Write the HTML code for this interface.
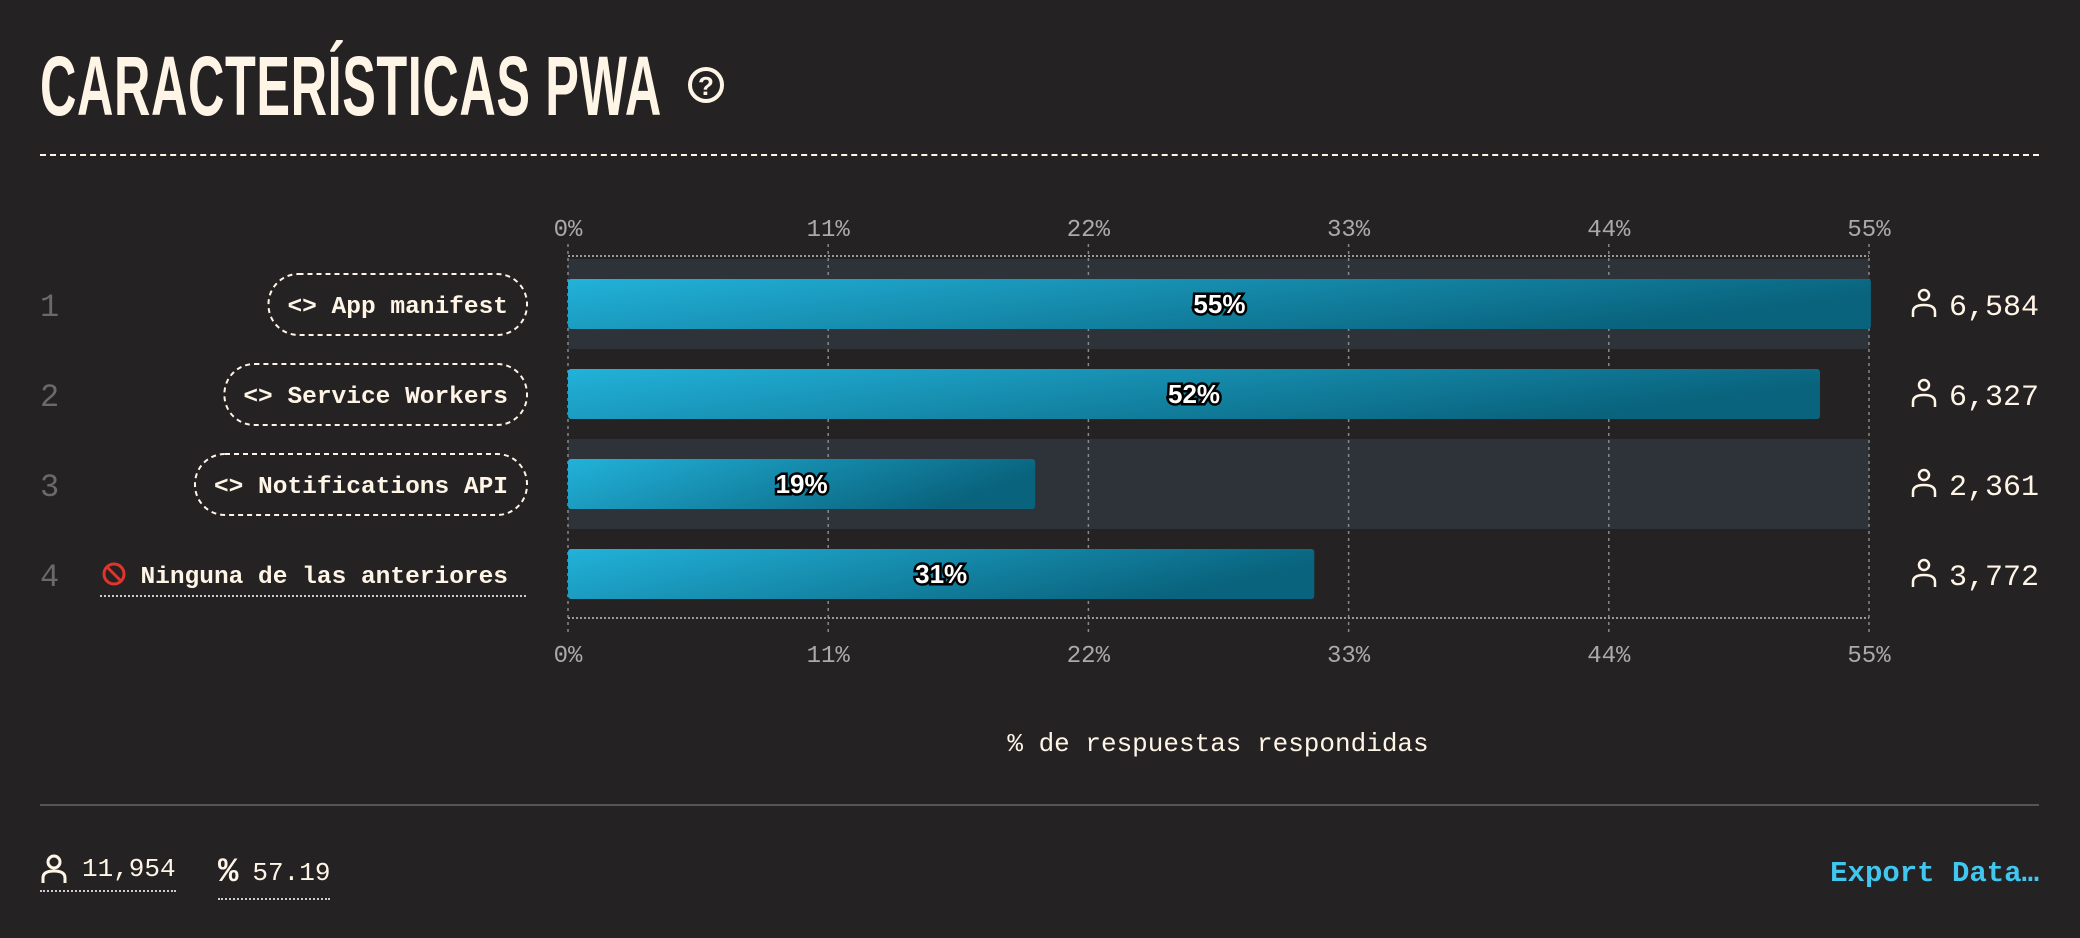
<!DOCTYPE html>
<html><head><meta charset="utf-8">
<style>
html,body{margin:0;padding:0;background:#252224;width:2080px;height:938px;overflow:hidden}
body{font-family:"Liberation Mono",monospace;color:#fff5e6;position:relative}
.title{position:absolute;left:40px;top:44px;font-family:"Liberation Sans",sans-serif;font-weight:bold;font-size:84px;line-height:84px;transform:scaleX(0.6);transform-origin:left top;white-space:nowrap;letter-spacing:1px}
.help{position:absolute;left:688px;top:67px;width:36px;height:36px;border:4px solid #fff5e6;border-radius:50%;box-sizing:border-box;text-align:center;font:bold 26px/30px "Liberation Sans",sans-serif}
.dash{position:absolute;left:40px;top:154px;width:1999px;border-top:2px dashed #fff5e6}
.solid{position:absolute;left:40px;top:804px;width:1999px;border-top:2px solid #555}
.foot{position:absolute;top:854px;font-size:26px;border-bottom:2px dotted #ccc;padding-bottom:6px;display:flex;align-items:center;gap:14px}
.export{position:absolute;right:41px;top:857px;font-weight:bold;font-size:29px;color:#41c7ef}
</style></head><body>
<div class="title">CARACTERÍSTICAS PWA</div>
<div class="help">?</div>
<div class="dash"></div>
<svg id="chart" width="2080" height="800" style="position:absolute;left:0;top:0">
<defs><linearGradient id="g" x1="0" x2="1" y1="0" y2="0.3"><stop offset="0" stop-color="#22b2da"/><stop offset="1" stop-color="#09637d"/></linearGradient></defs>
</svg>
<div class="solid"></div>
<div class="foot" style="left:40px"><svg width="28" height="30" viewBox="0 0 28 30"><circle cx="14" cy="8" r="6" fill="none" stroke="#fff5e6" stroke-width="3"/><path d="M3 29 V24 Q3 17 14 17 Q25 17 25 24 V29" fill="none" stroke="#fff5e6" stroke-width="3"/></svg>11,954</div>
<div class="foot" style="left:218px"><span style="font-size:34px;font-weight:bold">%</span>57.19</div>
<div class="export">Export Data…</div>
<script>
const categories=["App manifest","Service Workers","Notifications API","Ninguna de las anteriores"];
const values=[55.08,52.93,19.75,31.55];
const valueLabels=["55%","52%","19%","31%"];
const counts=["6,584","6,327","2,361","3,772"];
const ticks=[0,11,22,33,44,55];
const svg=document.getElementById('chart');
const NS='http://www.w3.org/2000/svg';
const x0=568,x1=1869,maxV=55;
const xs=v=>x0+(v/maxV)*(x1-x0);
const rowY=i=>304+i*90;
function el(t,a,p){const e=document.createElementNS(NS,t);for(const k in a)e.setAttribute(k,a[k]);(p||svg).appendChild(e);return e;}
categories.forEach((c,i)=>{if(i%2===0){const b=el('rect',{x:x0,y:rowY(i)-45,width:x1-x0,height:90,fill:'#2d3338'});

}});
ticks.forEach(t=>{const x=xs(t);
const l=el('line',{x1:x,x2:x,y1:244,y2:632,stroke:'#888','stroke-dasharray':'3 4','stroke-width':1.5});


[236,662].forEach(y=>{const tx=el('text',{x:x,y:y,'text-anchor':'middle',fill:'#aaa','font-size':24,'font-family':'Liberation Mono, monospace'});tx.textContent=t+'%';

});});
[256,618].forEach(y=>{const a=el('line',{x1:x0,x2:x1,y1:y,y2:y,stroke:'#999','stroke-dasharray':'2 2','stroke-width':2});

});
categories.forEach((c,i)=>{const y=rowY(i);
const r=el('rect',{x:x0,y:y-25,width:xs(values[i])-x0,height:50,rx:3,fill:'url(#g)'});


const vl=el('text',{x:(x0+xs(values[i]))/2,y:y+9,'text-anchor':'middle',fill:'#fff','font-size':26,'font-weight':'bold','font-family':'Liberation Sans Narrow, Liberation Sans, sans-serif',stroke:'#000','stroke-width':5,'paint-order':'stroke'});vl.textContent=valueLabels[i];


const rk=el('text',{x:40,y:y+12,fill:'#6a6a6a','font-size':32,'font-family':'Liberation Mono, monospace'});rk.textContent=i+1;


const last=i===3;
const label=(last?'':'<> ')+c;
const tw=label.length*14.7;
const lt=el('text',{x:508,y:y+9,'text-anchor':'end',fill:'#fff5e6','font-size':24.5,'font-weight':'bold','font-family':'Liberation Mono, monospace'});lt.textContent=label;


if(!last){const p=el('rect',{x:527-tw-38,y:y-30,width:tw+38,height:61,rx:30,fill:'none',stroke:'#fff5e6','stroke-width':2,'stroke-dasharray':'5 4'});

}
else{const u=el('line',{x1:100,x2:527,y1:y+22,y2:y+22,stroke:'#ccc','stroke-width':2,'stroke-dasharray':'2 2'});


const ic=el('circle',{cx:114,cy:y,r:10,fill:'none',stroke:'#e0342c','stroke-width':3});


el('line',{x1:107,y1:y-7,x2:121,y2:y+7,stroke:'#e0342c','stroke-width':3});}
const g=el('g',{});


el('circle',{cx:1924,cy:y-9,r:5,fill:'none',stroke:'#fff5e6','stroke-width':2.5},g);
el('path',{d:`M1913 ${y+13} V${y+8} Q1913 ${y+1} 1924 ${y+1} Q1935 ${y+1} 1935 ${y+8} V${y+13}`,fill:'none',stroke:'#fff5e6','stroke-width':2.5},g);
const ct=el('text',{x:2039,y:y+11,'text-anchor':'end',fill:'#fff5e6','font-size':30,'font-family':'Liberation Mono, monospace'},g);ct.textContent=counts[i];
});
const at=el('text',{x:1218,y:751,'text-anchor':'middle',fill:'#fff5e6','font-size':26,'font-family':'Liberation Mono, monospace'});at.textContent='% de respuestas respondidas';


</script>
</body></html>
